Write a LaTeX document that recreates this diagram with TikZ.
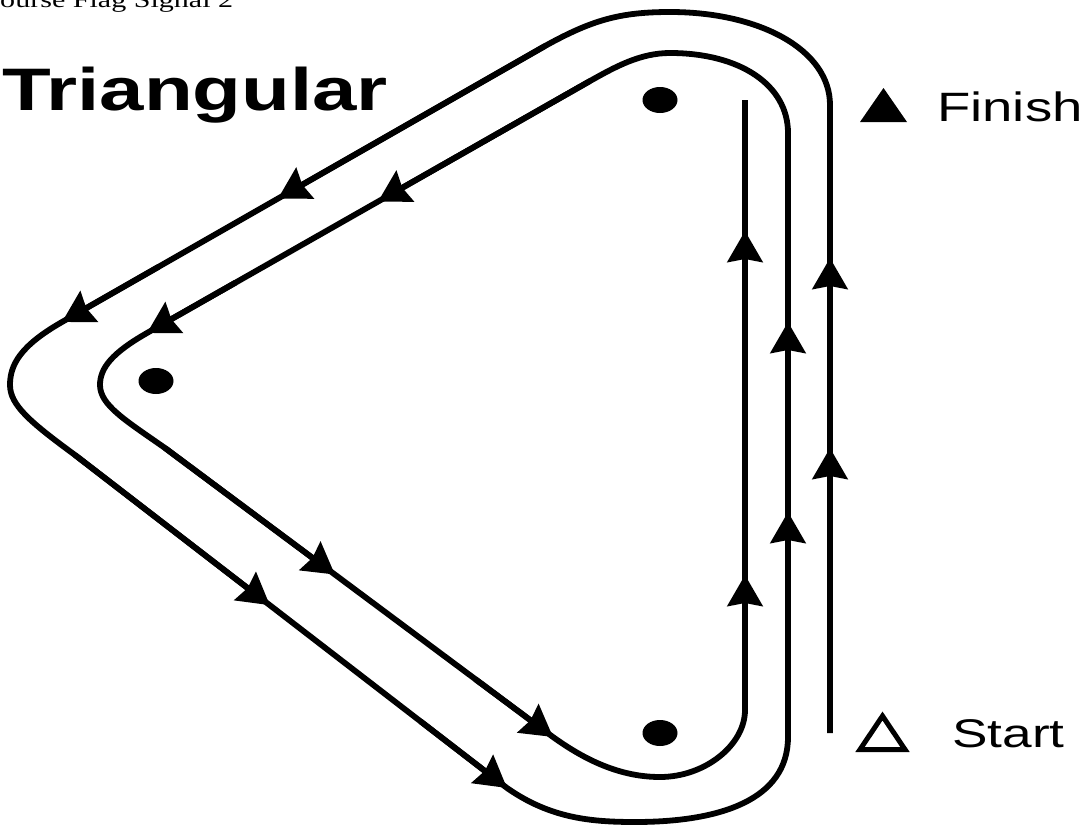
\documentclass[tikz,border=0pt]{standalone}
\usepackage{fontspec}
\usepackage{graphicx}
\setmainfont{Liberation Serif}
\newfontfamily\arialfont{Liberation Sans}
\usetikzlibrary{arrows.meta,calc}
\begin{document}
\begin{tikzpicture}[x=1pt,y=-1pt,
  course/.style={line width=5.8pt, line join=round},
  tipmark/.style={course, -{Stealth[length=31pt,width=35pt,inset=3pt]}},
  buoy/.style={fill=black, draw=none},
  label/.style={anchor=base west, inner sep=0pt}]
\useasboundingbox (0,0) rectangle (1085,825);
\fill[white] (0,0) rectangle (1085,825);
% key points
\coordinate (S)  at (830,733);
\coordinate (F)  at (745,100);
\coordinate (A1) at (545,46);
\coordinate (B1) at (62,322);
\coordinate (A2) at (75,455);
\coordinate (B2) at (507,788);
\coordinate (A3) at (590,81);
\coordinate (B3) at (147,333);
\coordinate (A4) at (165,448);
\coordinate (B4) at (553,737);
% course line
\draw[course] (S) -- (830,105)
  .. controls (830,50) and (760,12) .. (670,12)
  .. controls (620,12) and (592,20) .. (A1) -- (B1)
  .. controls (20,346) and (10,365) .. (10,385)
  .. controls (10,405) and (30,422) .. (A2) -- (B2)
  .. controls (550,818) and (590,822) .. (635,822)
  .. controls (720,822) and (788,800) .. (788,737) -- (788,133)
  .. controls (788,85) and (740,53) .. (670,53)
  .. controls (640,53) and (615,67) .. (A3) -- (B3)
  .. controls (112,353) and (100,368) .. (100,385)
  .. controls (100,405) and (125,420) .. (A4) -- (B4)
  .. controls (585,760) and (620,777) .. (660,777)
  .. controls (705,777) and (745,745) .. (745,710) -- (F);
% arrowheads on diagonals
\draw[tipmark] (A1) -- ($(A1)!0.553!(B1)$);
\draw[tipmark] ($(A1)!0.8!(B1)$) -- (B1);
\draw[tipmark] (A3) -- ($(A3)!0.4786!(B3)$);
\draw[tipmark] ($(A3)!0.8!(B3)$) -- (B3);
\draw[tipmark] (A2) -- ($(A2)!0.451!(B2)$);
\draw[tipmark] ($(A2)!0.8!(B2)$) -- (B2);
\draw[tipmark] (A4) -- ($(A4)!0.438!(B4)$);
\draw[tipmark] ($(A4)!0.8!(B4)$) -- (B4);
% arrowheads on verticals
\draw[tipmark] (830,300) -- (830,258);
\draw[tipmark] (830,500) -- (830,448);
\draw[tipmark] (788,360) -- (788,322);
\draw[tipmark] (788,560) -- (788,512);
\draw[tipmark] (745,280) -- (745,231);
\draw[tipmark] (745,620) -- (745,575);
% marks
\fill[buoy] (660,100) ellipse [x radius=17.5pt, y radius=13pt];
\fill[buoy] (156,381) ellipse [x radius=17.5pt, y radius=13pt];
\fill[buoy] (660,733) ellipse [x radius=17.5pt, y radius=13pt];
% finish / start symbols
\fill (860,122) -- (907,122) -- (883.5,88) -- cycle;
\draw[line width=5pt, line join=miter] (860,749.5) -- (905,749.5) -- (882.5,716) -- cycle;
% texts
\node[label] (hdr) at (-20,7) {\fontsize{22.6}{27}\selectfont\scalebox{1.33}[1]{Course Flag Signal 2}};
\node[label] (title) at (2,110) {\arialfont\bfseries\fontsize{60}{72}\selectfont\scalebox{1.33}[1]{Triangular}};
\node[label] (fin) at (937,121) {\arialfont\fontsize{41}{48}\selectfont\scalebox{1.33}[1]{Finish}};
\node[label] (st) at (952,747) {\arialfont\fontsize{40}{48}\selectfont\scalebox{1.33}[1]{Start}};
\end{tikzpicture}
\end{document}
